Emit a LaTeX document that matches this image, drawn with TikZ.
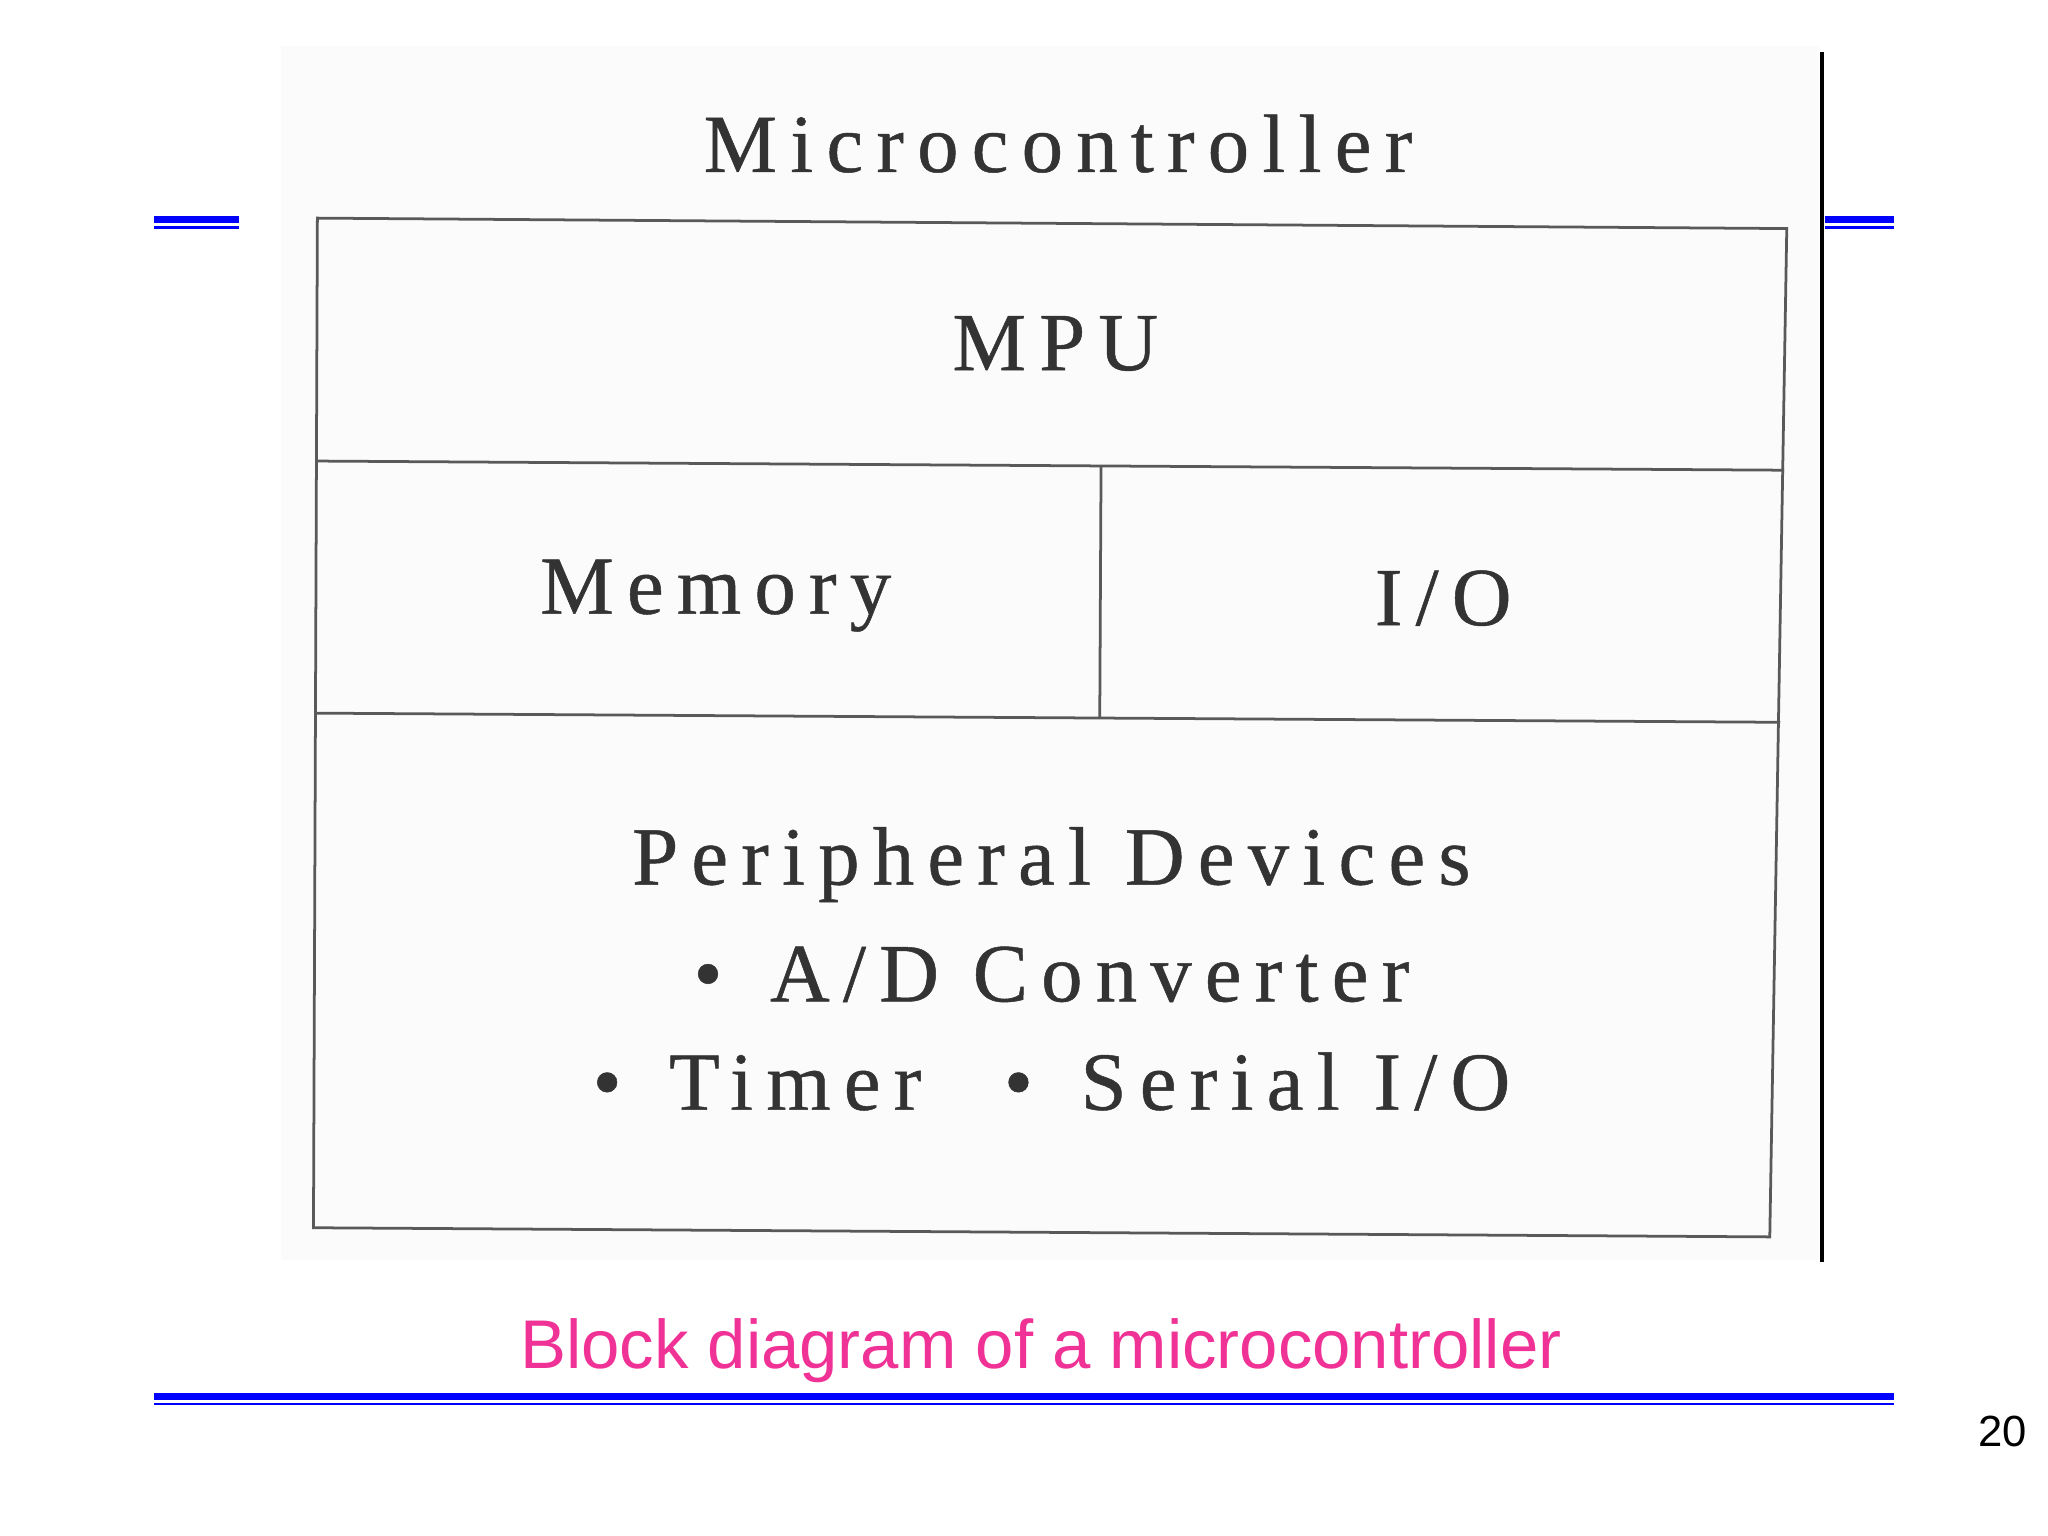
\documentclass[tikz,border=0pt]{standalone}
\usepackage{fontspec}
\setmainfont{Liberation Serif}
\newfontfamily\lblfont[LetterSpace=16,FakeBold=0.6]{Liberation Serif}
\newfontfamily\capfont{Liberation Sans}
\begin{document}
\begin{tikzpicture}[x=0.01cm,y=-0.01cm]
\tikzset{
 lbl/.style={font=\lblfont\fontsize{18pt}{22pt}\selectfont, text=black!80, inner sep=0pt, anchor=center},
 boxline/.style={draw=black!65, line width=0.6pt},
 blueA/.style={draw=blue, line width=1.6pt},
 blueB/.style={draw=blue, line width=0.6pt}
}
\useasboundingbox (0,0) rectangle (1568,1176);
\fill[white] (0,0) rectangle (1568,1176);
\fill[black!1.5] (215,35) rectangle (1393,965);
% blue rules
\coordinate (l1) at (118,168); \coordinate (l2) at (183,168);
\coordinate (l3) at (118,174); \coordinate (l4) at (183,174);
\coordinate (r1) at (1397,168); \coordinate (r2) at (1450,168);
\coordinate (r3) at (1397,174); \coordinate (r4) at (1450,174);
\coordinate (b1) at (118,1069); \coordinate (b2) at (1450,1069);
\coordinate (b3) at (118,1075); \coordinate (b4) at (1450,1075);
\draw[blueA] (l1)--(l2); \draw[blueB] (l3)--(l4);
\draw[blueA] (r1)--(r2); \draw[blueB] (r3)--(r4);
\draw[blueA] (b1)--(b2); \draw[blueB] (b3)--(b4);
% black vertical
\coordinate (v1) at (1395,40); \coordinate (v2) at (1395,966);
\draw[line width=1pt] (v1)--(v2);
% box
\coordinate (tl) at (243,167); \coordinate (tr) at (1368,175);
\coordinate (br) at (1355,947); \coordinate (bl) at (240,940);
\draw[boxline] (tl)--(tr)--(br)--(bl)--cycle;
\coordinate (m1) at (243,353); \coordinate (m2) at (1366,360);
\draw[boxline] (m1)--(m2);
\coordinate (d1) at (242,546); \coordinate (d2) at (1363,553);
\draw[boxline] (d1)--(d2);
\coordinate (c1) at (843,357); \coordinate (c2) at (842,550);
\draw[boxline] (c1)--(c2);
% labels
\node[lbl] (mc) at (810,110) {Microcontroller};
\node[lbl] (mpu) at (808,263) {MPU};
\node[lbl] (mem) at (548,456) {Memory};
\node[lbl] (io) at (1105,458) {I/O};
\node[lbl] (pd) at (805,662) {Peripheral Devices};
\node[lbl] (ad) at (805,746) {•\, A/D Converter};
\node[lbl] (ts) at (805,828) {•\, Timer\quad •\, Serial I/O};
\node[font=\capfont\fontsize{15pt}{18pt}\selectfont, text={rgb,255:red,240;green,50;blue,150}, inner sep=0pt] (cap) at (797,1034) {Block diagram of a microcontroller};
\node[font=\capfont\fontsize{9.5pt}{11pt}\selectfont, inner sep=0pt] (pg) at (1533,1096) {20};
\end{tikzpicture}
\end{document}
